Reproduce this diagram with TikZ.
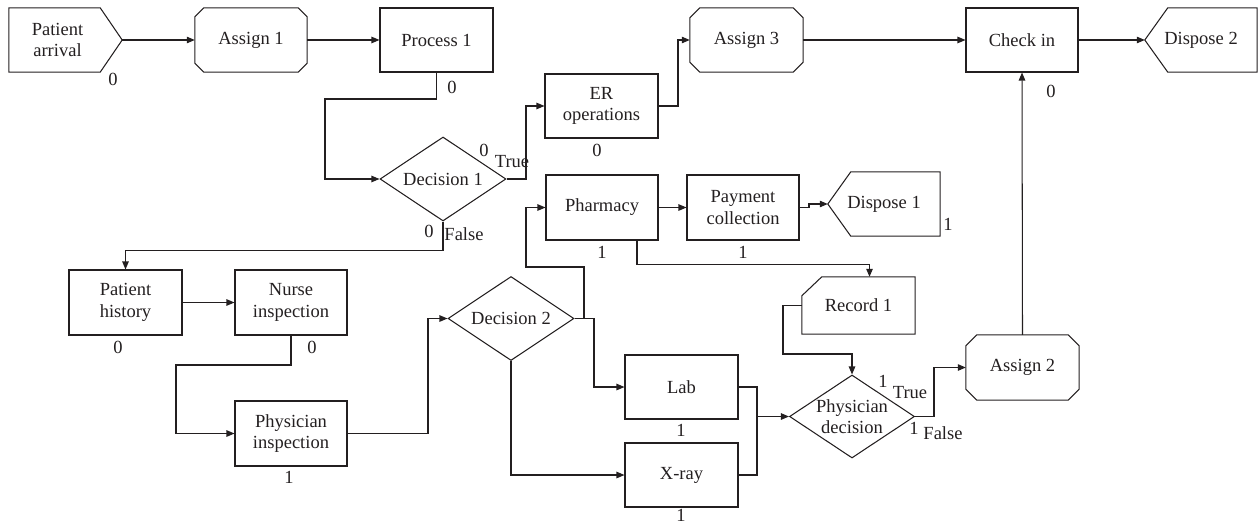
\documentclass[tikz,border=0pt]{standalone}
\usepackage{fontspec}
\setmainfont{Liberation Serif}
\usetikzlibrary{arrows.meta,shapes.geometric}
\definecolor{lc}{RGB}{35,31,32}
\newcommand\myocto[2]{\draw[ln] ([xshift=#2pt]#1.north west) -- ([xshift=-#2pt]#1.north east) -- ([yshift=-#2pt]#1.north east) -- ([yshift=#2pt]#1.south east) -- ([xshift=-#2pt]#1.south east) -- ([xshift=#2pt]#1.south west) -- ([yshift=#2pt]#1.south west) -- ([yshift=-#2pt]#1.north west) -- cycle;}
\begin{document}
\begin{tikzpicture}[x=1pt,y=-1pt,
  every node/.style={font=\fontsize{18.5}{21.5}\selectfont, text=lc},
  ln/.style={draw=lc, line width=1.05pt, line join=miter},
  conn/.style={ln, -{Triangle[length=8pt,width=6.5pt]}},
  bx/.style={rectangle, inner sep=0pt, align=center},
  rbox/.style={bx, ln},
  dia/.style={diamond, ln, inner sep=0pt, minimum width=126pt, minimum height=84pt},
  num/.style={inner sep=0pt}]
\useasboundingbox (0,0) rectangle (1258,524);

% nodes
\node[bx, minimum width=113pt, minimum height=64pt, label={[align=center,xshift=-8pt]center:Patient\\arrival}] (pa) at (65.5,40) {};
\node[bx, minimum width=112pt, minimum height=64pt] (as1) at (251,40) {Assign 1};
\node[rbox, minimum width=113pt, minimum height=64pt] (p1) at (436.5,40) {Process 1};
\node[dia, label={center:Decision 1}] (d1) at (443,179) {};
\node[rbox, minimum width=113pt, minimum height=64pt] (er) at (601.5,106) {ER\\operations};
\node[bx, minimum width=113pt, minimum height=64pt] (as3) at (746.5,40) {Assign 3};
\node[rbox, minimum width=112pt, minimum height=64pt] (ci) at (1022,40) {Check in};
\node[bx, minimum width=112pt, minimum height=64pt] (dp2) at (1201,40) {Dispose 2};
\node[rbox, minimum width=112pt, minimum height=65pt] (ph) at (602,207.5) {Pharmacy};
\node[rbox, minimum width=112pt, minimum height=65pt] (pc) at (743,207.5) {Payment\\collection};
\node[bx, minimum width=112pt, minimum height=64pt] (dp1) at (884,204) {Dispose 1};
\node[rbox, minimum width=113pt, minimum height=65pt] (phist) at (125.5,302.5) {Patient\\history};
\node[rbox, minimum width=112pt, minimum height=65pt] (ni) at (291,302.5) {Nurse\\inspection};
\node[rbox, minimum width=112pt, minimum height=65pt] (pi) at (291,433.5) {Physician\\inspection};
\node[dia, label={center:Decision 2}] (d2) at (511,318.5) {};
\node[rbox, minimum width=113pt, minimum height=64pt] (lab) at (681.5,387) {Lab};
\node[rbox, minimum width=113pt, minimum height=64pt] (xr) at (681.5,475) {X-ray};
\node[dia, minimum width=125pt, minimum height=83pt, label={[align=center]center:Physician\\decision}] (pd) at (852,416.5) {};
\node[bx, minimum width=113pt, minimum height=57pt] (rec) at (858.5,305.5) {Record 1};
\node[bx, minimum width=113pt, minimum height=65pt] (as2) at (1022.5,367.5) {Assign 2};

% special outlines
\draw[ln] (pa.north west) -- ([xshift=-22pt]pa.north east) -- (pa.east) -- ([xshift=-22pt]pa.south east) -- (pa.south west) -- cycle;
\draw[ln] (dp2.west) -- ([xshift=23pt]dp2.north west) -- (dp2.north east) -- (dp2.south east) -- ([xshift=23pt]dp2.south west) -- cycle;
\draw[ln] (dp1.west) -- ([xshift=23pt]dp1.north west) -- (dp1.north east) -- (dp1.south east) -- ([xshift=23pt]dp1.south west) -- cycle;
\draw[ln] ([yshift=-19pt]rec.north west) -- ([xshift=20pt]rec.north west) -- (rec.north east) -- (rec.south east) -- (rec.south west) -- cycle;
\myocto{as1}{9}
\myocto{as3}{10}
\myocto{as2}{11}

% connectors
\draw[conn] (pa.east) -- (as1.west);
\draw[conn] (as1.east) -- (p1.west);
\draw[conn] (p1.south) |- (325,99) |- (d1.west);
\draw[conn] (d1.east) -- (526,179) |- (er.west);
\draw[conn] (er.east) -- (678,106) |- (as3.west);
\draw[conn] (as3.east) -- (ci.west);
\draw[conn] (ci.east) -- (dp2.west);
\draw[conn] (d1.south) -- ++(0,29) -| (phist.north);
\draw[conn] (phist.east) -- (ni.west);
\draw[conn] (ni.south) |- (176,365) |- (pi.west);
\draw[conn] (pi.east) -- (428,433.5) |- (d2.west);
\draw[conn] (d2.east) -- (584,318.5) |- (526,267) |- (ph.west);
\draw[conn] (d2.east) -- (594,318.5) |- (lab.west);
\draw[conn] (d2.south) |- (xr.west);
\draw[conn] (ph.east) -- (pc.west);
\draw[conn] (pc.east) -- (809,207.5) |- (dp1.west);
\draw[conn] ([xshift=35pt]ph.south) -- ++(0,24) -| ([xshift=11pt]rec.north);
\draw[conn] (rec.west) -| (783,354) -| (pd.north);
\draw[conn] (lab.east) -- (757,387) |- (pd.west);
\draw[ln] (xr.east) -| (757,416.5);
\draw[conn] (pd.east) -- (934,416.5) |- (as2.west);
\draw[conn] (as2.north) -- (ci.south);

% counts and branch labels
\node[num] (npa) at (113,79) {0};
\node[num] (np1) at (452,87) {0};
\node[num] (nd1t) at (484,150) {0};
\node[num] (td1t) at (512,162) {True};
\node[num] (nd1f) at (429,231) {0};
\node[num] (td1f) at (464,234) {False};
\node[num] (ner) at (597,150) {0};
\node[num] (nci) at (1051,91) {0};
\node[num] (nph) at (602,252) {1};
\node[num] (npc) at (743,252) {1};
\node[num] (ndp1) at (948,224) {1};
\node[num] (nphist) at (118,347) {0};
\node[num] (nni) at (312,347) {0};
\node[num] (npi) at (289,477) {1};
\node[num] (nlab) at (681,430) {1};
\node[num] (nxr) at (681,515) {1};
\node[num] (npdt) at (883,381) {1};
\node[num] (tpdt) at (910,393) {True};
\node[num] (npdf) at (914,428) {1};
\node[num] (tpdf) at (943,433) {False};
\end{tikzpicture}
\end{document}
